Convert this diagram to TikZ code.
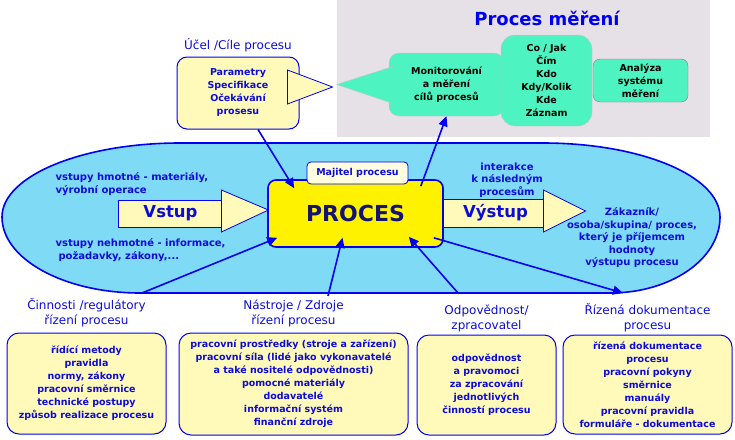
\documentclass[tikz,border=0pt]{standalone}
\usepackage{fontspec}
\setsansfont{DejaVu Sans}
\usetikzlibrary{positioning, arrows.meta}
\definecolor{measure}{HTML}{E6E1E6}
\definecolor{mint}{HTML}{4DF3C0}
\definecolor{pale}{HTML}{FFFAB9}
\definecolor{sky}{HTML}{7FDBF5}
\definecolor{royal}{HTML}{0000F0}
\definecolor{ink}{HTML}{0C0CD6}
\definecolor{navy}{HTML}{14146E}

\begin{document}
\begin{tikzpicture}[
    x=1pt, y=-1pt,
    >={Triangle[length=10pt,width=9pt]},
    font=\sffamily,
    small/.style={
        font=\sffamily\bfseries\fontsize{9.5}{13}\selectfont,
        text=ink,
        align=center
    },
    infobox/.style={
        small,
        draw=royal,
        line width=1pt,
        fill=pale,
        rounded corners=12pt
    },
    heading/.style={
        font=\sffamily\fontsize{12}{15.5}\selectfont,
        text=ink,
        align=center,
        inner sep=0pt
    },
    mintbox/.style={
        draw=black!22,
        fill=mint,
        rounded corners=10pt,
        align=center,
        font=\sffamily\bfseries\fontsize{9.5}{13}\selectfont
    },
    flow/.style={draw=royal, line width=0.8pt, fill=pale},
    link/.style={->, draw=royal, line width=1.6pt}
]
\useasboundingbox (0,0) rectangle (735,439);

% measuring process
\fill[measure] (337,0) rectangle (710,137);
\node[font=\sffamily\bfseries\fontsize{18}{20}\selectfont, text=royal] (mtitle) at (547,18) {Proces měření};
\node[mintbox, minimum width=115pt, minimum height=63pt] (monitor) at (446.5,84.5) {Monitorování\\a měření\\cílů procesů};
\filldraw[draw=black!22, fill=mint] ([shift={(4,-18)}]monitor.west) -- ([shift={(-52,0)}]monitor.west) -- ([shift={(4,19)}]monitor.west);
\node[mintbox, minimum width=91pt, minimum height=91pt, rounded corners=14pt] (cojak) at (546.5,80.5) {Co / Jak\\Čím\\Kdo\\Kdy/Kolik\\Kde\\Záznam};
\node[mintbox, draw=black!50, rounded corners=7pt, minimum width=95pt, minimum height=43pt] (analyza) at (640.5,80.5) {Analýza\\systému\\měření};

% goals
\node[infobox, rounded corners=10pt, minimum width=122pt, minimum height=72pt] (ucel) at (238,93) {Parametry\\Specifikace\\Očekávání\\prosesu};
\filldraw[flow] ([shift={(-12,-23)}]ucel.east) -- ([shift={(33,-6)}]ucel.east) -- ([shift={(-12,11)}]ucel.east) -- cycle;
\node[heading, above=4pt of ucel] (ucelHead) {Účel /Cíle procesu};

% process area
\filldraw[fill=sky, draw=royal, line width=1.6pt]
    (180,143) -- (543,143) .. controls (641,143) and (720,176) .. (720,217)
    .. controls (720,259) and (671,293) .. (610,293) -- (140,293)
    .. controls (64,293) and (2,259) .. (2,217)
    .. controls (2,176) and (82,143) .. (180,143) -- cycle;
\coordinate (ctrlTip) at (142,293);
\coordinate (toolTip) at (328,296);
\coordinate (respTip) at (458,293);
\coordinate (docTip) at (623,293);

\node[small, anchor=west, align=left, font=\sffamily\bfseries\fontsize{10}{12.5}\selectfont] (hmot) at (52,184) {vstupy hmotné - materiály,\\výrobní operace};
\node[small, anchor=west, align=left, font=\sffamily\bfseries\fontsize{10}{12.5}\selectfont] (nehmot) at (52,250) {vstupy nehmotné - informace,\\\hspace{3pt}požadavky, zákony,...};
\node[small, font=\sffamily\bfseries\fontsize{10}{12.5}\selectfont] (inter) at (507,180) {interakce\\k následným\\procesům};
\node[small, font=\sffamily\bfseries\fontsize{10}{12.5}\selectfont] (zakaznik) at (632,238) {Zákazník/\\osoba/skupina/ proces,\\který je příjemcem\\hodnoty\\výstupu procesu};

\node[flow, minimum width=105pt, minimum height=27pt, font=\sffamily\bfseries\fontsize{16.5}{18}\selectfont, text=ink] (vstup) at (170.5,213.5) {Vstup};
\filldraw[flow] ([shift={(-2,-23.5)}]vstup.east) -- ([shift={(45,-3.5)}]vstup.east) -- ([shift={(-2,18.5)}]vstup.east) -- cycle;
\node[flow, minimum width=105pt, minimum height=28pt, font=\sffamily\bfseries\fontsize{16.5}{18}\selectfont, text=ink] (vystup) at (495.5,213) {Výstup};
\filldraw[flow] ([shift={(-5,-23)}]vystup.east) -- ([shift={(37,-2)}]vystup.east) -- ([shift={(-5,19)}]vystup.east) -- cycle;

\node[draw=royal, line width=1.6pt, fill=yellow, rounded corners=8pt, minimum width=175pt, minimum height=67pt,
      font=\sffamily\bfseries\fontsize{22}{24}\selectfont, text=navy] (proces) at (355.5,213.5) {PROCES};
\node[small, draw=royal, line width=0.8pt, fill=yellow!12, rounded corners=4pt, minimum width=101pt, minimum height=22pt] (majitel) at (357.5,173) {Majitel procesu};

% bottom boxes
\node[infobox, minimum width=159pt, minimum height=101pt] (ctrl) at (86.5,383.5) {řídící metody\\pravidla\\normy, zákony\\pracovní směrnice\\technické postupy\\způsob realizace procesu};
\node[heading, above=5pt of ctrl] (ctrlHead) {Činnosti /regulátory\\řízení procesu};

\node[infobox, minimum width=229pt, minimum height=102pt, inner xsep=2pt] (tools) at (293.5,384) {pracovní prostředky (stroje a zařízení)\\pracovní síla (lidé jako vykonavatelé\\a také nositelé odpovědnosti)\\pomocné materiály\\dodavatelé\\informační systém\\finanční zdroje};
\node[heading, above=5pt of tools] (toolsHead) {Nástroje / Zdroje\\řízení procesu};

\node[infobox, minimum width=139pt, minimum height=100pt] (resp) at (486.5,385) {odpovědnost\\a pravomoci\\za zpracování\\jednotlivých\\činností procesu};
\node[heading, above=2pt of resp] (respHead) {Odpovědnost/\\zpracovatel};

\node[infobox, minimum width=169pt, minimum height=99pt] (docs) at (647.5,384.5) {řízená dokumentace\\procesu\\pracovní pokyny\\směrnice\\manuály\\pracovní pravidla\\formuláře - dokumentace};
\node[heading, above=2pt of docs] (docsHead) {Řízená dokumentace\\procesu};

% connectors
\draw[link] ([xshift=20]ucel.south) -- ([shift={(27,9)}]proces.north west);
\draw[link] ([shift={(-23,7)}]proces.north east) -- (monitor.south);
\draw[link] (ctrlTip) -- ([shift={(10,-10)}]proces.south west);
\draw[link] (toolTip) -- ([shift={(-13,-10)}]proces.south);
\draw[link] (respTip) -- ([shift={(-35,-11)}]proces.south east);
\draw[link] ([shift={(-10,-10)}]proces.south east) -- (docTip);

\end{tikzpicture}
\end{document}
